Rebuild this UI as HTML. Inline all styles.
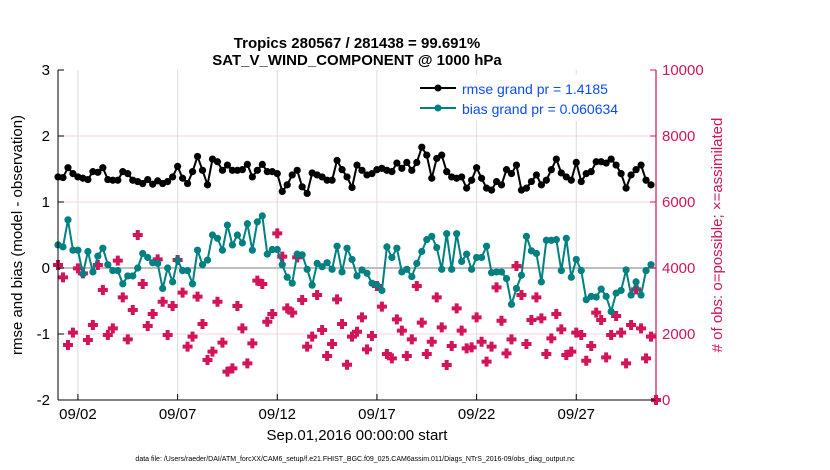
<!DOCTYPE html>
<html><head><meta charset="utf-8"><style>
body{margin:0;background:#fff;}
svg{display:block;font-family:"Liberation Sans",sans-serif;}
</style></head><body>
<svg id="chart" width="830" height="470" viewBox="0 0 830 470">
<g id="grid"></g><g id="marks"></g><g id="axes"></g>
<text x="357" y="48" text-anchor="middle" font-size="15" font-weight="bold">Tropics 280567 / 281438 = 99.691%</text>
<text x="357" y="65" text-anchor="middle" font-size="15" font-weight="bold">SAT_V_WIND_COMPONENT @ 1000 hPa</text>
<text transform="translate(22,235) rotate(-90)" text-anchor="middle" font-size="15">rmse and bias (model - observation)</text>
<text transform="translate(722,235) rotate(-90)" text-anchor="middle" font-size="15" fill="#d4145a"># of obs: o=possible; ×=assimilated</text>
<text x="357" y="440" text-anchor="middle" font-size="15">Sep.01,2016 00:00:00 start</text>
<text x="355" y="461" text-anchor="middle" font-size="7">data file: /Users/raeder/DAI/ATM_forcXX/CAM6_setup/f.e21.FHIST_BGC.f09_025.CAM6assim.011/Diags_NTrS_2016-09/obs_diag_output.nc</text>
<g>
<rect x="414" y="75" width="232" height="46" fill="#fff"/>
<g>
<line x1="420" y1="88" x2="456" y2="88" stroke="#000" stroke-width="2"/><circle cx="438" cy="88" r="3.5" fill="#000"/>
<text x="462" y="94" font-size="14" fill="#0a4cf0">rmse grand pr = 1.4185</text></g>
<g>
<line x1="420" y1="108" x2="456" y2="108" stroke="#008080" stroke-width="2"/><circle cx="438" cy="108" r="3.5" fill="#008080"/>
<text x="462" y="114" font-size="14" fill="#0a4cf0">bias grand pr = 0.060634</text></g>
</g>
</svg>
<script>
const rmse=[1.38,1.37,1.52,1.43,1.38,1.36,1.34,1.46,1.45,1.52,1.34,1.33,1.33,1.46,1.43,1.33,1.31,1.28,1.34,1.27,1.32,1.28,1.31,1.38,1.54,1.36,1.28,1.46,1.69,1.48,1.26,1.65,1.61,1.48,1.56,1.48,1.48,1.49,1.57,1.38,1.48,
1.57,1.46,1.46,1.43,1.16,1.26,1.41,1.48,1.23,1.13,1.44,1.41,1.38,1.33,1.33,1.63,1.49,1.38,1.22,1.56,1.48,1.41,1.43,1.49,1.51,1.48,1.46,1.59,1.51,1.60,1.48,1.60,1.83,1.71,1.36,1.66,1.71,1.46,1.38,1.36,
1.38,1.21,1.33,1.52,1.36,1.21,1.18,1.31,1.26,1.49,1.43,1.56,1.18,1.21,1.31,1.41,1.26,1.33,1.49,1.65,1.44,1.38,1.33,1.60,1.31,1.43,1.46,1.61,1.61,1.59,1.65,1.56,1.43,1.21,1.41,1.49,1.56,1.33,1.26];
const bias=[0.35,0.32,0.73,0.27,0.27,-0.09,0.25,-0.06,0.18,0.30,0.05,-0.04,-0.04,-0.24,-0.12,-0.12,0.0,0.22,0.16,0.08,0.07,-0.31,0.0,-0.21,0.12,-0.04,-0.04,-0.24,0.27,0.05,0.12,0.50,0.45,0.27,0.65,0.35,0.50,0.38,0.67,0.27,0.70,
0.79,0.21,0.28,0.28,0.05,-0.14,-0.23,0.21,0.20,-0.02,-0.26,0.07,0.02,0.08,-0.02,0.33,-0.06,0.30,0.13,-0.12,-0.03,-0.08,-0.23,-0.26,-0.34,0.32,0.16,0.30,-0.06,-0.02,-0.13,0.07,0.25,0.43,0.48,0.31,-0.02,0.52,-0.02,0.52,
0.10,0.21,-0.02,0.16,0.16,0.33,-0.07,-0.06,-0.06,-0.16,-0.55,-0.31,-0.11,0.48,0.26,0.22,-0.21,0.42,0.42,0.43,-0.04,0.45,-0.14,0.13,-0.04,-0.48,-0.43,-0.44,-0.32,-0.43,-0.66,-0.38,-0.34,-0.03,-0.41,-0.21,-0.41,-0.04,0.05];
const nobs=[4090,3717,1666,2040,3990,3838,1818,2272,4090,3333,1970,2171,4222,3111,1838,2727,5000,3515,2242,2606,4262,2979,1970,2848,4242,3252,1616,1919,3131,2302,1212,1465,2979,1737,858,959,2848,2171,1111,1717,3616,
3515,2373,2606,5050,4343,2778,2646,4323,3030,1616,1919,3181,2121,1333,1697,3050,2302,1070,1919,2070,2505,1535,1939,3454,2828,1394,1263,2444,2101,1333,1838,3454,2343,1394,1767,3111,2202,1060,1636,2778,
2101,1566,1596,2505,1767,1161,1616,3414,2403,1414,1838,4060,3181,1697,2424,3111,2474,1394,1868,2606,2141,1363,1465,2040,1970,1191,1636,2646,2424,1292,1970,2545,2040,1111,2272,3353,2171,1263,1919,0];
const xTickDays=[1,6,11,16,21,26];
const xTickLabels=["09/02","09/07","09/12","09/17","09/22","09/27"];
const yTicks=[3,2,1,0,-1,-2];
const y2Ticks=[10000,8000,6000,4000,2000,0];

const X0=58,X1=656,Y0=400,Y1=70;
const xs=d=>X0+(d/30)*(X1-X0);
const yl=v=>Y0-(v+2)/5*(Y0-Y1);
const yr=v=>Y0-v/10000*(Y0-Y1);
const NS="http://www.w3.org/2000/svg";
function mk(tag,attrs,parent){const e=document.createElementNS(NS,tag);for(const k in attrs)e.setAttribute(k,attrs[k]);parent.appendChild(e);return e;}
const grid=document.getElementById('grid'),marks=document.getElementById('marks'),axes=document.getElementById('axes');

xTickDays.forEach((d,i)=>{
  const l=mk('line',{x1:xs(d),x2:xs(d),y1:Y1,y2:Y0,stroke:'#dcdcdc','stroke-width':1},grid);
  
  
  const t=mk('line',{x1:xs(d),x2:xs(d),y1:Y0,y2:Y0-6,stroke:'#000'},axes);
  
  
  const tx=mk('text',{x:xs(d),y:Y0+19,'text-anchor':'middle','font-size':15},axes);
  tx.textContent=xTickLabels[i];
  
  
});
y2Ticks.forEach(v=>{
  if(v>0&&v<10000&&v!==4000){
    const g=mk('line',{x1:X0,x2:X1,y1:yr(v),y2:yr(v),stroke:'#f2d6e2','stroke-width':1},grid);
    
    
  }
  const t=mk('line',{x1:X1,x2:X1-6,y1:yr(v),y2:yr(v),stroke:'#d4145a'},axes);
  
  
  const tx=mk('text',{x:X1+6,y:yr(v)+5,'font-size':15,fill:'#d4145a'},axes);
  tx.textContent=v;
  
  
});
yTicks.forEach(v=>{
  const t=mk('line',{x1:X0,x2:X0+6,y1:yl(v),y2:yl(v),stroke:'#000'},axes);
  
  
  const tx=mk('text',{x:X0-8,y:yl(v)+5,'text-anchor':'end','font-size':15},axes);
  tx.textContent=v;
  
  
});
const zl=mk('line',{x1:X0,x2:X1,y1:yl(0),y2:yl(0),stroke:'#bdbdbd','stroke-width':2},grid);



const la=mk('line',{x1:X0,x2:X0,y1:Y1,y2:Y0,stroke:'#000','stroke-width':1},axes);


const ba=mk('line',{x1:X0,x2:X1,y1:Y0,y2:Y0,stroke:'#000','stroke-width':1},axes);


const ra=mk('line',{x1:X1,x2:X1,y1:Y1,y2:Y0,stroke:'#d4145a','stroke-width':1.2},axes);



nobs.forEach((v,i)=>{
  const cx=xs(i/4),cy=yr(v),s=5,w=2;
  const p=mk('path',{d:`M${cx-w} ${cy-s}H${cx+w}V${cy-w}H${cx+s}V${cy+w}H${cx+w}V${cy+s}H${cx-w}V${cy+w}H${cx-s}V${cy-w}H${cx-w}Z M${cx} ${cy-4}L${cx+4} ${cy}L${cx} ${cy+4}L${cx-4} ${cy}Z`,fill:'#d4145a'},marks);
  
  
});
function series(arr,color,name){
  const pts=arr.map((v,i)=>xs(i/4)+','+yl(v)).join(' ');
  const pl=mk('polyline',{points:pts,fill:'none',stroke:color,'stroke-width':2},marks);
  
  
  arr.forEach((v,i)=>{
    const c=mk('circle',{cx:xs(i/4),cy:yl(v),r:3.6,fill:color},marks);
    
    
  });
}
series(bias,'#008080','bias');
series(rmse,'#000000','rmse');
</script>
</body></html>
